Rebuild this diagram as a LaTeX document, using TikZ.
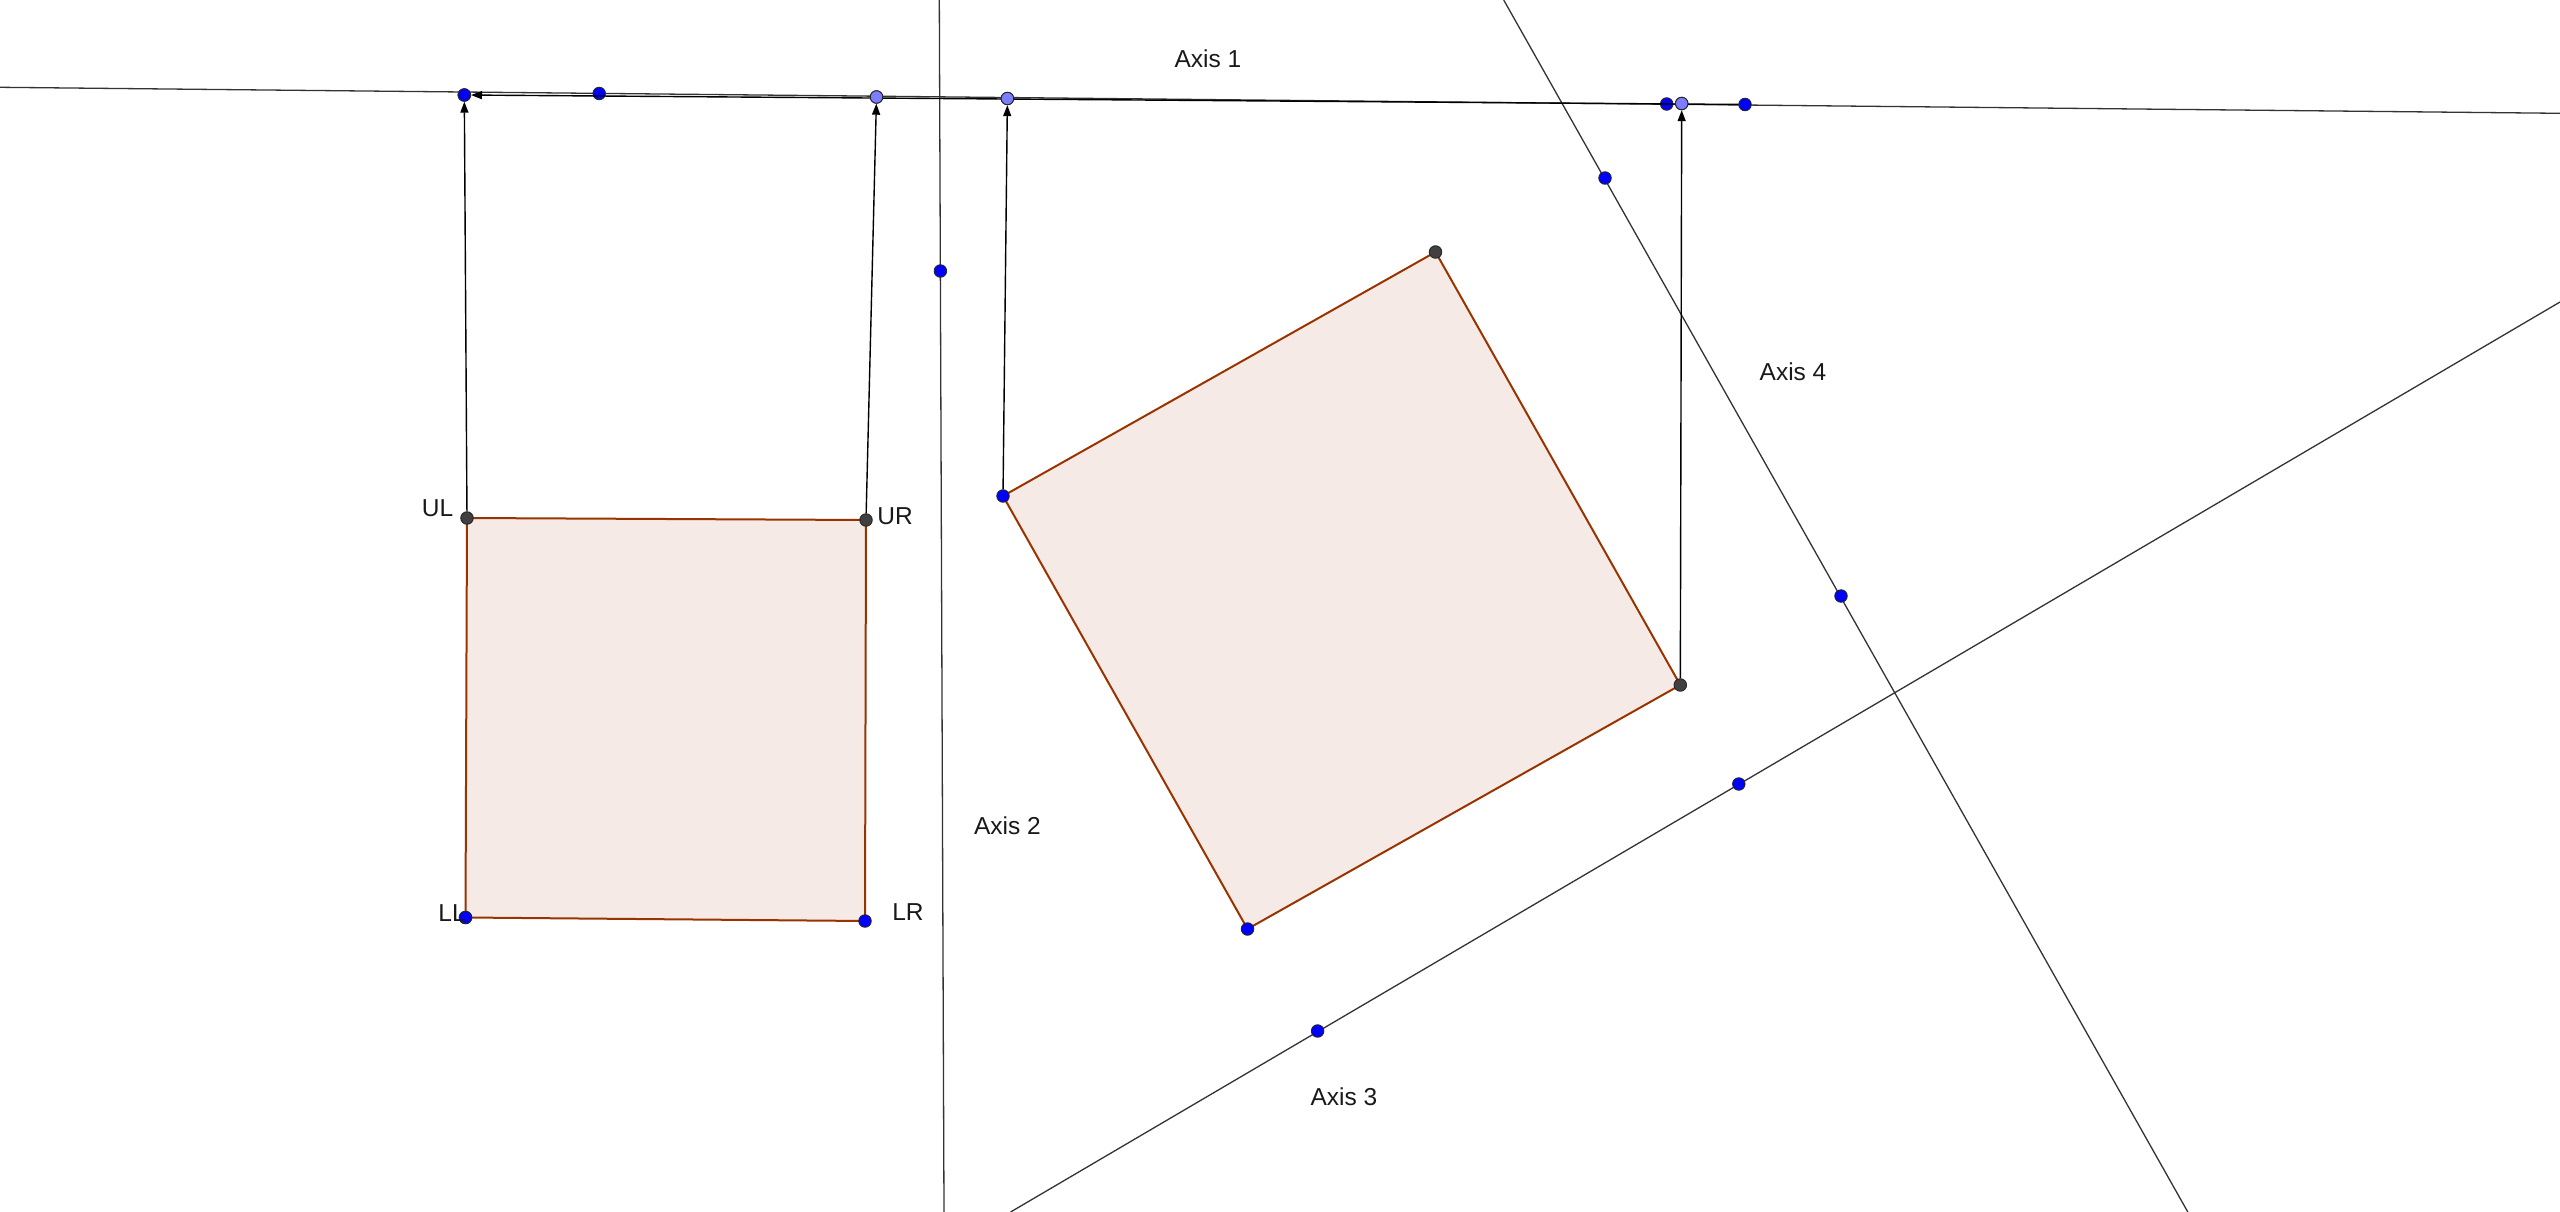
\documentclass[tikz,border=0pt]{standalone}
\usepackage{fontspec}
\setmainfont{Liberation Sans}
\usetikzlibrary{arrows.meta}
\definecolor{polyc}{RGB}{153,51,0}
\definecolor{bluept}{RGB}{0,0,255}
\definecolor{lightpt}{RGB}{125,125,255}
\definecolor{darkpt}{RGB}{64,64,64}
\tikzset{
  gpt/.style={circle, inner sep=0pt, minimum size=12.5pt, draw=black!85, line width=0.9pt},
  bpt/.style={gpt, fill=bluept},
  lpt/.style={gpt, fill=lightpt},
  dpt/.style={gpt, fill=darkpt},
  axisline/.style={line width=1.3pt, black!80},
  vecline/.style={line width=1.4pt, black, -{Triangle[length=11pt,width=8pt]}},
  sqpoly/.style={draw=polyc, line width=2pt, fill=polyc, fill opacity=0.1},
  lbl/.style={font=\fontsize{24.5}{28}\selectfont, text=black!90, inner sep=0pt}
}
\begin{document}
\begin{tikzpicture}[x=1pt,y=-1pt]
\useasboundingbox (0,0) rectangle (2560,1212);
% coordinates
\coordinate (cUL) at (467,518);
\coordinate (cUR) at (866,520);
\coordinate (cLR) at (865,921);
\coordinate (cLL) at (465.5,917.5);
\coordinate (cA) at (1003,496);
\coordinate (cB) at (1435.5,252);
\coordinate (cC) at (1680.3,685);
\coordinate (cD) at (1247.5,929);
% squares
\path[sqpoly] (cUL) -- (cUR) -- (cLR) -- (cLL) -- cycle;
\path[sqpoly] (cA) -- (cB) -- (cC) -- (cD) -- cycle;
% axes
\coordinate (a1s) at (0,87.3);
\coordinate (a1e) at (2560,113.3);
\coordinate (a2s) at (939.3,0);
\coordinate (a2e) at (944,1212);
\coordinate (a3s) at (1010.6,1212);
\coordinate (a3e) at (2560,302);
\coordinate (a4s) at (1503.7,0);
\coordinate (a4e) at (2187.8,1212);
\draw[axisline] (a1s) -- (a1e);
\draw[axisline] (a2s) -- (a2e);
\draw[axisline] (a3s) -- (a3e);
\draw[axisline] (a4s) -- (a4e);
% points
\node[dpt] (ul) at (cUL) {};
\node[dpt] (ur) at (cUR) {};
\node[bpt] (lr) at (cLR) {};
\node[bpt] (ll) at (cLL) {};
\node[bpt] (ra) at (cA) {};
\node[dpt] (rb) at (cB) {};
\node[dpt] (rc) at (cC) {};
\node[bpt] (rd) at (cD) {};
\node[bpt] (p1) at (464.3,95) {};
\node[bpt] (p2) at (599.2,93.5) {};
\node[lpt] (p3) at (876.5,97) {};
\node[lpt] (p4) at (1007.4,98.5) {};
\node[bpt] (p5) at (1666.7,104) {};
\node[lpt] (p6) at (1681.7,103.5) {};
\node[bpt] (p7) at (1745,104.5) {};
\node[bpt] (q2) at (940.4,271) {};
\node[bpt] (q3a) at (1317.6,1031) {};
\node[bpt] (q3b) at (1738.8,784) {};
\node[bpt] (q4a) at (1605,178) {};
\node[bpt] (q4b) at (1841,596) {};
% vectors
\draw[vecline] (p7) -- (p1);
\draw[vecline] (ul) -- (p1);
\draw[vecline] (ur) -- (p3);
\draw[vecline] (ra) -- (p4);
\draw[vecline] (rc) -- (p6);
% redraw points on top
\node[bpt] at (cLL) {};
\node[bpt] at (464.3,95) {};
\node[lpt] at (876.5,97) {};
\node[lpt] at (1007.4,98.5) {};
\node[lpt] at (1681.7,103.5) {};
% labels
\node[lbl] (tUL) at (437.5,508.5) {UL};
\node[lbl] (tUR) at (895,516.5) {UR};
\node[lbl] (tLL) at (452,913) {LL};
\node[lbl] (tLR) at (908,912) {LR};
\node[lbl] (t1) at (1208,59) {Axis 1};
\node[lbl] (t2) at (1007.5,826) {Axis 2};
\node[lbl] (t3) at (1344,1097) {Axis 3};
\node[lbl] (t4) at (1793,372) {Axis 4};
\end{tikzpicture}
\end{document}
